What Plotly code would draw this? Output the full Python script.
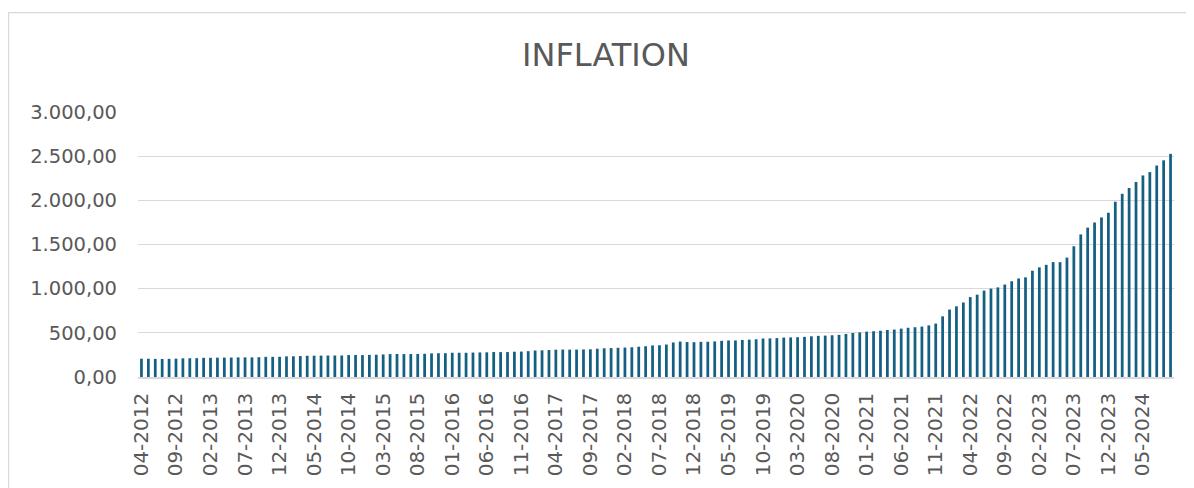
import plotly.graph_objects as go

# Monthly index values, 04-2012 .. 09-2024
values_2012 = [207.05, 206.61, 204.76, 204.29, 205.43, 207.54, 211.61, 212.43, 213.23]  # Apr-Dec
values_2013 = [216.74, 217.39, 218.83, 219.75, 220.07, 221.75, 222.44, 222.21, 223.91, 227.94, 227.96, 229.01]
values_2014 = [233.54, 234.54, 237.18, 240.37, 241.32, 242.07, 243.17, 243.40, 243.74, 248.37, 248.82, 247.72]
values_2015 = [250.45, 252.24, 255.23, 259.39, 260.85, 259.51, 259.74, 260.79, 263.10, 267.17, 268.98, 269.54]
values_2016 = [274.44, 274.39, 274.27, 276.42, 278.02, 279.33, 282.57, 281.76, 282.27, 286.33, 287.81, 292.54]
values_2017 = [299.74, 302.17, 305.24, 309.23, 310.61, 309.78, 310.24, 311.85, 313.88, 320.41, 325.18, 327.41]
values_2018 = [330.75, 333.17, 336.48, 342.78, 348.34, 357.42, 359.38, 367.64, 390.82, 401.24, 395.47, 393.88]
values_2019 = [398.05, 398.70, 402.81, 409.63, 413.55, 413.66, 419.26, 422.87, 427.05, 435.59, 437.25, 440.50]
values_2020 = [446.45, 448.01, 450.55, 454.39, 460.57, 465.76, 468.48, 472.49, 477.06, 487.23, 498.44, 504.81]
values_2021 = [513.30, 517.96, 523.55, 532.32, 537.05, 547.48, 557.33, 563.60, 570.66, 584.32, 604.84, 686.95]
values_2022 = [763.23, 799.93, 843.64, 904.79, 931.76, 977.90, 1000.67, 1014.41, 1046.89, 1084.00, 1115.26, 1128.45]
values_2023 = [1203.48, 1241.33, 1269.75, 1300.60, 1300.04, 1351.59, 1479.84, 1614.30, 1691.04, 1749.11, 1806.50, 1859.38]
values_2024 = [1984.02, 2073.95, 2139.47, 2207.50, 2281.85, 2319.29, 2394.10, 2453.00, 2526.16]  # Jan-Sep

values = (values_2012 + values_2013 + values_2014 + values_2015 + values_2016 + values_2017
          + values_2018 + values_2019 + values_2020 + values_2021 + values_2022 + values_2023 + values_2024)

# Category labels MM-YYYY
months = []
y, m = 2012, 4
for _ in range(len(values)):
    months.append(f"{m:02d}-{y}")
    m += 1
    if m > 12:
        m = 1
        y += 1

tick_labels = months[::5]

y_ticks = [0, 500, 1000, 1500, 2000, 2500, 3000]

TXT = "#595959"
GRID = "#D9D9D9"
FONT = "DejaVu Sans, Liberation Sans, Arial, sans-serif"

fig = go.Figure(go.Bar(
    x=months,
    y=values,
    marker=dict(color="#156082", line=dict(width=0)),
    hoverinfo="x+y",
))

# page has an 8px body margin; figure coordinates below are page - 8
W, H = 1186, 480
L, R, T, B = 130, 19.5, 104, 110.7
pw = W - L - R
ph = H - T - B

def px2paper_x(px):
    return (px - L) / pw

def px2paper_y(py):
    return (H - B - py) / ph

fig.update_layout(
    width=W, height=H,
    margin=dict(l=L, r=R, t=T, b=B, pad=0),
    paper_bgcolor="white",
    plot_bgcolor="white",
    separators=",.",
    bargap=0.6,
    showlegend=False,
    font=dict(family=FONT, color=TXT),
    title=dict(
        text="INFLATION",
        font=dict(family=FONT, size=32, color=TXT),
        x=598 / W, xref="container", xanchor="center",
        y=1 - 47 / H, yref="container", yanchor="middle",
    ),
    xaxis=dict(
        type="category",
        tickmode="array",
        tickvals=tick_labels,
        ticktext=tick_labels,
        tickangle=-90,
        tickfont=dict(family=FONT, size=20, color=TXT),
        showgrid=False,
        showline=True,
        linecolor=GRID,
        linewidth=1.5,
        ticks="",
        ticklabelstandoff=6,
        fixedrange=True,
    ),
    yaxis=dict(
        range=[0, 3000],
        tickmode="array",
        tickvals=y_ticks,
        tickformat=",.2f",
        tickfont=dict(family=FONT, size=19.5, color=TXT),
        showgrid=True,
        gridcolor=GRID,
        gridwidth=1.3,
        zeroline=False,
        showline=False,
        ticks="",
        ticklabelstandoff=20,
        fixedrange=True,
    ),
    shapes=[dict(
        type="rect", xref="paper", yref="paper",
        x0=px2paper_x(0.5), x1=px2paper_x(1220),
        y0=px2paper_y(520), y1=px2paper_y(4.5),
        line=dict(color=GRID, width=1.2),
        fillcolor="rgba(0,0,0,0)",
        layer="below",
    )],
)

fig.write_html("out.html")
